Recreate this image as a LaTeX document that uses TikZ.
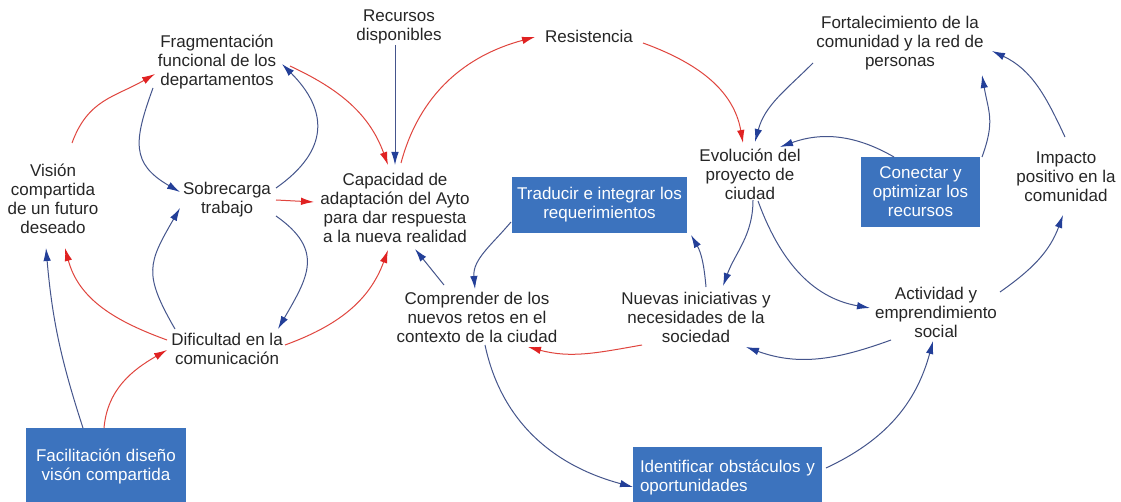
\documentclass[tikz,border=0pt]{standalone}
\usepackage{fontspec}
\setmainfont{Liberation Sans}
\usetikzlibrary{arrows.meta,calc}
\definecolor{redln}{HTML}{E0453E}
\definecolor{redhd}{HTML}{E02222}
\definecolor{blueln}{HTML}{45558C}
\definecolor{bluehd}{HTML}{233F98}
\definecolor{boxblue}{HTML}{3C73BE}
\definecolor{txt}{HTML}{262626}
\begin{document}
\begin{tikzpicture}[x=1pt,y=1pt,
  lbl/.style={inner sep=0pt,align=center,text=txt,font=\fontsize{17}{19}\selectfont},
  bbox/.style={inner sep=0pt,align=center,fill=boxblue,text=white,font=\fontsize{17}{19}\selectfont},
  poslink/.style={draw=blueln,line width=1pt,-{Latex[length=13pt,width=7.5pt,color=bluehd]}},
  neglink/.style={draw=redln,line width=1pt,-{Latex[length=13pt,width=7.5pt,color=redhd]}}]
\useasboundingbox (0,0) rectangle (1121,-502);
\clip (0,0) rectangle (1121,-502);
\fill[white] (0,0) rectangle (1121,-502);
% nodes
\node[lbl] (rec) at (399,-27) {Recursos\\disponibles};
\node[lbl] (frag) at (217,-62) {Fragmentación\\funcional de los\\departamentos};
\node[lbl] (res) at (589,-36) {Resistencia};
\node[lbl] (fort) at (900,-43) {Fortalecimiento de la\\comunidad y la red de\\personas};
\node[lbl] (vis) at (53,-199) {Visión\\compartida\\de un futuro\\deseado};
\node[lbl] (sob) at (227,-200) {Sobrecarga\\trabajo};
\node[lbl] (cap) at (395,-208) {Capacidad de\\adaptación del Ayto\\para dar respuesta\\a la nueva realidad};
\node[bbox,minimum width=175pt,minimum height=56pt] (tra) at (599.5,-205) {Traducir e integrar los\\requerimientos};
\node[lbl] (evo) at (750,-174) {Evolución del\\proyecto de\\ciudad};
\node[bbox,minimum width=119pt,minimum height=70pt] (con) at (920.5,-192) {Conectar y\\optimizar los\\recursos};
\node[lbl] (imp) at (1066,-177) {Impacto\\positivo en la\\comunidad};
\node[lbl] (com) at (477,-317) {Comprender de los\\nuevos retos en el\\contexto de la ciudad};
\node[lbl] (nue) at (696,-317) {Nuevas iniciativas y\\necesidades de la\\sociedad};
\node[lbl] (act) at (936,-312) {Actividad y\\emprendimiento\\social};
\node[lbl] (dif) at (227,-349) {Dificultad en la\\comunicación};
\node[bbox,minimum width=160pt,minimum height=78pt] (fac) at (106,-467) {Facilitación diseño\\visón compartida};
\node[bbox,align=left,text width=175pt,minimum width=189pt,minimum height=62pt] (ide) at (727.5,-478) {Identificar obstáculos y\\oportunidades\\[8pt]};
% connectors
\draw[neglink] ($(vis)+(19,56)$) to[out=70,in=-150,looseness=1.1] ($(frag)+(-62,-12)$);
\draw[poslink] ($(frag)+(-64,-26)$) to[out=-110,in=150,looseness=1.35] ($(sob)+(-47,8)$);
\draw[poslink] ($(sob)+(49,12)$) to[out=35,in=-45,looseness=1.35] ($(frag)+(65,-2)$);
\draw[neglink] ($(frag)+(73,-4)$) to[out=-25,in=110] ($(cap)+(-7,43)$);
\draw[poslink] ($(rec)+(-4,-18)$) -- ($(cap)+(0,43)$);
\draw[neglink] ($(sob)+(49,0)$) -- ($(cap)+(-81,6)$);
\draw[poslink] ($(sob)+(49,-16)$) to[out=-35,in=60,looseness=1.35] ($(dif)+(51,20)$);
\draw[poslink] ($(dif)+(-52,20)$) to[out=120,in=-120,looseness=1.35] ($(sob)+(-47,-8)$);
\draw[neglink] ($(dif)+(-60,9)$) to[out=160,in=-75] ($(vis)+(12,-49)$);
\draw[neglink] ($(dif)+(58,4)$) to[out=20,in=-110] ($(cap)+(-7,-42)$);
\draw[poslink] ($(fac)+(-23,39)$) to[out=108,in=-85] ($(vis)+(-7,-49)$);
\draw[neglink] ($(fac)+(-2,39)$) to[out=85,in=-150] ($(dif)+(-60,-1)$);
\draw[neglink] ($(cap)+(6,45)$) to[out=75,in=-165] ($(res)+(-54,-1)$);
\draw[neglink] ($(res)+(54,-7)$) to[out=-20,in=100] ($(evo)+(-7,31)$);
\draw[poslink] ($(fort)+(-87,-20)$) to[out=-135,in=75] ($(evo)+(5,32)$);
\draw[poslink] ($(con)+(-26.5,35)$) to[out=150,in=20] ($(evo)+(30,27)$);
\draw[poslink] ($(con)+(61.5,35)$) to[out=70,in=-80,looseness=1.2] ($(fort)+(82,-32)$);
\draw[poslink] ($(imp)+(-1,40)$) to[out=115,in=-25] ($(fort)+(92,-8)$);
\draw[poslink] ($(act)+(64,20)$) to[out=35,in=-110] ($(imp)+(-3,-38)$);
\draw[poslink] ($(evo)+(3,-26)$) to[out=-90,in=70] ($(nue)+(27,31)$);
\draw[poslink] ($(evo)+(8,-27)$) to[out=-70,in=170] ($(act)+(-66,4)$);
\draw[poslink] ($(act)+(-45,-28)$) to[out=-160,in=-20] ($(nue)+(50,-30)$);
\draw[poslink] ($(nue)+(10,30)$) to[out=95,in=-60] ($(tra)+(91.5,-30)$);
\draw[neglink] ($(nue)+(-54,-28)$) to[out=-170,in=-15] ($(com)+(51,-30)$);
\draw[poslink] ($(tra)+(-88.5,-17)$) to[out=-130,in=95] ($(com)+(-2,28)$);
\draw[poslink] ($(com)+(-33,32)$) -- ($(cap)+(20,-41)$);
\draw[poslink] ($(com)+(8,-28)$) to[out=-78,in=165] ($(ide)+(-94.5,-9)$);
\draw[poslink] ($(ide)+(98.5,10)$) to[out=25,in=-105] ($(act)+(-3,-29)$);
\end{tikzpicture}
\end{document}
